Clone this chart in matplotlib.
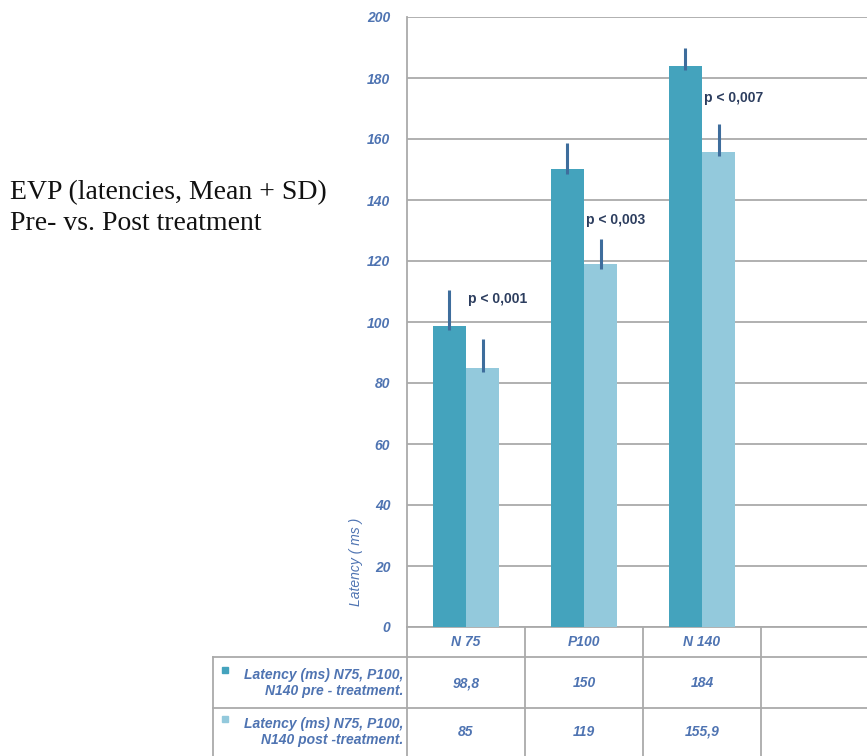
import matplotlib
matplotlib.use("Agg")
import matplotlib.pyplot as plt
from matplotlib import transforms
from matplotlib.lines import Line2D

plt.rcParams["font.family"] = ["Liberation Sans", "DejaVu Sans"]

# EVP latencies (ms), mean and SD, before and after treatment
categories = ["N 75", "P100", "N 140", ""]
pre_mean = [98.8, 150, 184]
post_mean = [85, 119, 155.9]
pre_sd = [11.7, 8.7, 5.8]
post_sd = [9.4, 8.2, 9.0]
p_labels = ["p < 0,001", "p < 0,003", "p < 0,007"]
p_label_y = [107.5, 133.5, 173.5]
yticks = list(range(0, 201, 20))
row_labels = ["Latency (ms) N75, P100,\nN140 pre - treatment.",
              "Latency (ms) N75, P100,\nN140 post -treatment."]

pre_color = "#44a3bd"
post_color = "#93c9dc"
err_color = "#3e6d9c"
blue_text = "#4f74b2"
p_color = "#2c3d5e"
grid_color = "#aaaaaa"

W, H = 867, 756


def fx(px):
    return px / W


def fy(py):
    return 1 - py / H


def fmt(v):
    return f"{v:g}".replace(".", ",")


fig = plt.figure(figsize=(W / 100, H / 100), dpi=100)
ax = fig.add_axes([fx(407), fy(627), fx(879) - fx(407), fy(17) - fy(627)])
ax.set_xlim(-0.5, len(categories) - 0.5)
ax.set_ylim(0, 200)

width = 0.28
xs = list(range(len(pre_mean)))
x_pre = [x - width / 2 for x in xs]
x_post = [x + width / 2 for x in xs]
ax.bar(x_pre, pre_mean, width, color=pre_color, zorder=3)
ax.bar(x_post, post_mean, width, color=post_color, zorder=3)

# upper SD whiskers only (Mean + SD)
ax.vlines(x_pre, [m - 1.5 for m in pre_mean],
          [m + s for m, s in zip(pre_mean, pre_sd)], color=err_color, lw=2.2, zorder=4)
ax.vlines(x_post, [m - 1.5 for m in post_mean],
          [m + s for m, s in zip(post_mean, post_sd)], color=err_color, lw=2.2, zorder=4)

for x, lab, y in zip(xs, p_labels, p_label_y):
    ax.text(x + 0.02, y, lab, ha="left", va="center", fontsize=10,
            fontweight="bold", color=p_color, zorder=5)

ax.set_yticks(yticks)
ax.set_yticklabels([str(t) for t in yticks], fontsize=10, fontweight="bold",
                   fontstyle="italic", color=blue_text)
ax.tick_params(axis="y", length=0, pad=12)
ax.set_xticks([])
ax.yaxis.grid(True, color=grid_color, lw=1.3, zorder=0)
ax.set_axisbelow(True)
for side in ["top", "right"]:
    ax.spines[side].set_visible(False)
for side in ["left", "bottom"]:
    ax.spines[side].set_color(grid_color)
    ax.spines[side].set_linewidth(1.3)

fig.text(fx(356), fy(562), "Latency ( ms )", rotation=90, ha="center", va="center",
         fontsize=10, fontstyle="italic", color=blue_text)

# data table under the axis
tr = transforms.blended_transform_factory(ax.transData, fig.transFigure)
for b in [i - 0.5 for i in range(len(categories) + 1)]:
    fig.add_artist(Line2D([b, b], [fy(627), fy(760)], transform=tr,
                          color=grid_color, lw=1.3))
for yy in [657, 708]:
    fig.add_artist(Line2D([fx(213), fx(880)], [fy(yy), fy(yy)],
                          transform=fig.transFigure, color=grid_color, lw=1.3))
fig.add_artist(Line2D([fx(213), fx(213)], [fy(657), fy(760)],
                      transform=fig.transFigure, color=grid_color, lw=1.3))

for x, c in enumerate(categories):
    ax.text(x, fy(642), c, transform=tr, ha="center", va="center", fontsize=10,
            fontweight="bold", fontstyle="italic", color=blue_text)

rows = [(pre_mean, pre_color, 683), (post_mean, post_color, 732)]
for (vals, col, yc), lab in zip(rows, row_labels):
    for x, v in enumerate(vals):
        ax.text(x, fy(yc), fmt(v), transform=tr, ha="center", va="center",
                fontsize=10, fontweight="bold", fontstyle="italic", color=blue_text)
    fig.text(fx(403), fy(yc), lab, ha="right", va="center", multialignment="right",
             fontsize=10, fontweight="bold", fontstyle="italic", color=blue_text,
             linespacing=1.15)
    fig.add_artist(Line2D([fx(225)], [fy(yc - 13)], transform=fig.transFigure,
                          marker="s", markersize=5, color=col, lw=0))

fig.text(fx(10), fy(199), "EVP (latencies, Mean + SD)", ha="left", va="baseline",
         fontsize=20, family="Liberation Serif", color="#111111")
fig.text(fx(10), fy(230), "Pre- vs. Post treatment", ha="left", va="baseline",
         fontsize=20, family="Liberation Serif", color="#111111")

fig.savefig("out.png", dpi=100)
